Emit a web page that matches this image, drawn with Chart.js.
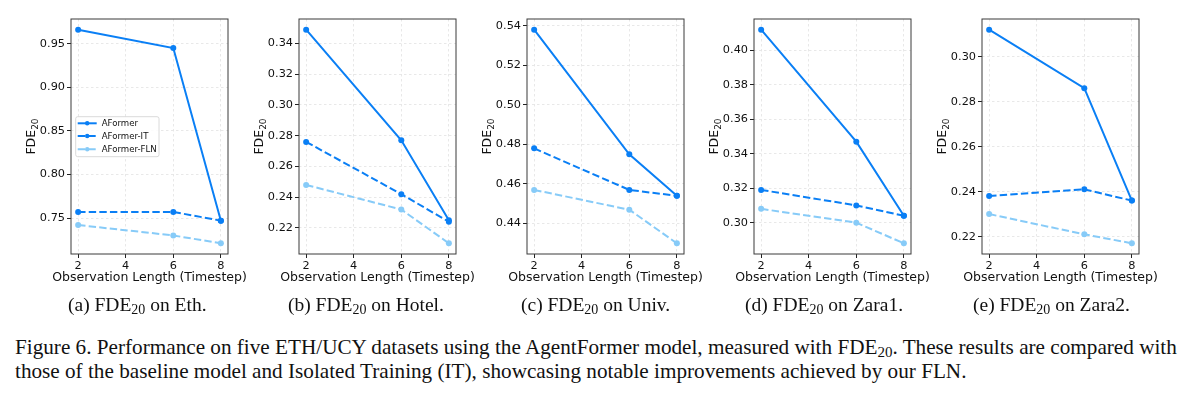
<!DOCTYPE html>
<html>
<head>
<meta charset="utf-8">
<script src="https://cdn.jsdelivr.net/npm/chart.js@4.4.1/dist/chart.umd.min.js"></script>
<style>
  html, body { margin: 0; padding: 0; background: #ffffff; }
  body { width: 1191px; height: 395px; position: relative; overflow: hidden; }
  canvas { position: absolute; top: 0; }
  .sub { position: absolute; font-family: "Liberation Serif", serif; font-size: 19.5px; line-height: 22px; color: #111; white-space: nowrap; }
  .sub sub { font-size: 14px; vertical-align: -3px; line-height: 0; }
  .cap { position: absolute; left: 15px; font-family: "Liberation Serif", serif; font-size: 21.2px; line-height: 22px; color: #111; white-space: nowrap; }
  .cap sub { font-size: 15px; vertical-align: -3px; line-height: 0; }
</style>
</head>
<body>
<script>
// ---------------- data ----------------
const steps = [2, 6, 8];
const seriesNames = ['AFormer', 'AFormer-IT', 'AFormer-FLN'];
const datasetNames = ['Eth', 'Hotel', 'Univ', 'Zara1', 'Zara2'];
const panelLetters = ['a', 'b', 'c', 'd', 'e'];

const ethAFormer = [0.966, 0.945, 0.747];
const ethIT      = [0.757, 0.757, 0.747];
const ethFLN     = [0.742, 0.730, 0.721];

const hotelAFormer = [0.349, 0.277, 0.225];
const hotelIT      = [0.276, 0.242, 0.224];
const hotelFLN     = [0.248, 0.232, 0.210];

const univAFormer = [0.538, 0.475, 0.454];
const univIT      = [0.478, 0.457, 0.454];
const univFLN     = [0.457, 0.447, 0.430];

const zara1AFormer = [0.412, 0.347, 0.304];
const zara1IT      = [0.319, 0.310, 0.304];
const zara1FLN     = [0.308, 0.300, 0.288];

const zara2AFormer = [0.312, 0.286, 0.236];
const zara2IT      = [0.238, 0.241, 0.236];
const zara2FLN     = [0.230, 0.221, 0.217];

const xTicks = [2, 4, 6, 8];
const yTickSteps = [0.05, 0.02, 0.02, 0.02, 0.02];
const xTitle = 'Observation Length (Timestep)';

const panelSeries = [
  [ethAFormer, ethIT, ethFLN],
  [hotelAFormer, hotelIT, hotelFLN],
  [univAFormer, univIT, univFLN],
  [zara1AFormer, zara1IT, zara1FLN],
  [zara2AFormer, zara2IT, zara2FLN]
];

// ---------------- styling ----------------
const colDark = '#0a7ff5';
const colLight = '#87cbf8';
const seriesStyle = [
  { color: colDark, dash: [] },
  { color: colDark, dash: [7.4, 3.2] },
  { color: colLight, dash: [7.4, 3.2] }
];
const plotLefts = [71, 298.7, 526.7, 754.3, 982.3];
const plotTop = 19, plotBottom = 254, plotWidth = 157;
const yAxisW = 70, canvasW = 256, canvasH = 296;

const frameAndLabels = {
  id: 'frameAndLabels',
  afterDraw(chart, args, opts) {
    const { ctx, chartArea: a } = chart;
    ctx.save();
    ctx.strokeStyle = '#3a3a3a';
    ctx.lineWidth = 1;
    ctx.strokeRect(a.left, a.top, a.right - a.left, a.bottom - a.top);
    // x title
    ctx.fillStyle = '#111';
    ctx.font = '12.5px "DejaVu Sans"';
    ctx.textAlign = 'center';
    ctx.textBaseline = 'middle';
    ctx.fillText(xTitle, (a.left + a.right) / 2, a.bottom + 23.5);
    // y title FDE_20
    ctx.translate(a.left - 39, (a.top + a.bottom) / 2);
    ctx.rotate(-Math.PI / 2);
    ctx.textBaseline = 'middle';
    ctx.font = '12.5px "DejaVu Sans"';
    const w1 = ctx.measureText('FDE').width;
    ctx.font = '9px "DejaVu Sans"';
    const w2 = ctx.measureText('20').width;
    const x0 = -(w1 + w2) / 2;
    ctx.font = '12.5px "DejaVu Sans"';
    ctx.textAlign = 'left';
    ctx.fillText('FDE', x0, 0);
    ctx.font = '9px "DejaVu Sans"';
    ctx.fillText('20', x0 + w1, 3.5);
    ctx.restore();

    if (opts.legend) {
      ctx.save();
      const bx = a.left + 4.7, by = a.top + 97.7, bw = 83.3, bh = 40;
      ctx.fillStyle = 'rgba(255,255,255,0.85)';
      ctx.strokeStyle = '#d0d0d0';
      ctx.lineWidth = 0.8;
      ctx.beginPath();
      if (ctx.roundRect) ctx.roundRect(bx, by, bw, bh, 2); else ctx.rect(bx, by, bw, bh);
      ctx.fill(); ctx.stroke();
      const rows = [by + 6.6, by + 19.3, by + 32.6];
      chart.data.datasets.forEach((ds, i) => {
        const y = rows[i];
        ctx.strokeStyle = ds.borderColor;
        ctx.lineWidth = 2;
        ctx.setLineDash(ds.borderDash || []);
        ctx.beginPath(); ctx.moveTo(bx + 2, y); ctx.lineTo(bx + 21, y); ctx.stroke();
        ctx.setLineDash([]);
        ctx.fillStyle = ds.borderColor;
        ctx.beginPath(); ctx.arc(bx + 11.5, y, 2.2, 0, Math.PI * 2); ctx.fill();
        ctx.fillStyle = '#111';
        ctx.font = '8.6px "DejaVu Sans"';
        ctx.textBaseline = 'middle';
        ctx.textAlign = 'left';
        ctx.fillText(ds.label, bx + 26, y + 0.5);
      });
      ctx.restore();
    }
  }
};

function makePanel(idx) {
  const series = panelSeries[idx];
  const all = series.flat();
  const dmin = Math.min(...all), dmax = Math.max(...all);
  const pad = (dmax - dmin) * 0.05;
  const ymin = dmin - pad, ymax = dmax + pad;
  const step = yTickSteps[idx];

  const cv = document.createElement('canvas');
  cv.width = canvasW; cv.height = canvasH;
  cv.style.width = canvasW + 'px'; cv.style.height = canvasH + 'px';
  cv.style.left = (plotLefts[idx] - yAxisW) + 'px';
  document.body.appendChild(cv);

  const datasets = series.map((vals, s) => ({
    label: seriesNames[s],
    data: steps.map((x, k) => ({ x: x, y: vals[k] })),
    borderColor: seriesStyle[s].color,
    backgroundColor: seriesStyle[s].color,
    pointBackgroundColor: seriesStyle[s].color,
    pointBorderColor: seriesStyle[s].color,
    borderDash: seriesStyle[s].dash,
    borderWidth: 2,
    pointRadius: 3,
    pointBorderWidth: 0,
    tension: 0,
    order: s
  }));

  new Chart(cv, {
    type: 'line',
    data: { datasets },
    options: {
      responsive: false,
      animation: false,
      devicePixelRatio: 1,
      layout: { padding: { top: plotTop, right: canvasW - yAxisW - plotWidth, left: 0, bottom: 0 } },
      plugins: {
        legend: { display: false },
        tooltip: { enabled: false },
        frameAndLabels: { legend: idx === 0 }
      },
      scales: {
        x: {
          type: 'linear',
          min: 1.7, max: 8.3,
          afterBuildTicks: (sc) => { sc.ticks = xTicks.map(v => ({ value: v })); },
          afterFit: (sc) => { sc.height = canvasH - plotBottom; },
          ticks: { color: '#111', font: { family: 'DejaVu Sans', size: 11.3 }, padding: 1.5, maxRotation: 0, callback: v => String(v) },
          grid: { color: '#e2e2e2', lineWidth: 0.8, tickLength: 4, tickColor: '#222', tickWidth: 1 },
          border: { display: false, dash: [2.5, 2.5] }
        },
        y: {
          type: 'linear',
          min: ymin, max: ymax,
          afterBuildTicks: (sc) => {
            const t = [];
            for (let v = Math.ceil(ymin / step - 1e-9) * step; v <= ymax + 1e-9; v += step) t.push({ value: Math.round(v * 1000) / 1000 });
            sc.ticks = t;
          },
          afterFit: (sc) => { sc.width = yAxisW; },
          ticks: { color: '#111', font: { family: 'DejaVu Sans', size: 11.3 }, padding: 2, callback: v => Number(v).toFixed(2) },
          grid: { color: '#e2e2e2', lineWidth: 0.8, tickLength: 4, tickColor: '#222', tickWidth: 1 },
          border: { display: false, dash: [2.5, 2.5] }
        }
      }
    },
    plugins: [frameAndLabels]
  });
}

for (let i = 0; i < 5; i++) makePanel(i);

// ---------------- captions ----------------
const subLefts = [68, 288, 521, 745, 973];
datasetNames.forEach((n, i) => {
  const d = document.createElement('div');
  d.className = 'sub';
  d.style.left = subLefts[i] + 'px';
  d.style.top = '294px';
  d.innerHTML = '(' + panelLetters[i] + ') FDE<sub>20</sub> on ' + n + '.';
  document.body.appendChild(d);
});
const cap1 = document.createElement('div');
cap1.className = 'cap';
cap1.style.top = '336px';
cap1.innerHTML = 'Figure 6. Performance on five ETH/UCY datasets using the AgentFormer model, measured with FDE<sub>20</sub>. These results are compared with';
document.body.appendChild(cap1);
const cap2 = document.createElement('div');
cap2.className = 'cap';
cap2.style.top = '360px';
cap2.innerHTML = 'those of the baseline model and Isolated Training (IT), showcasing notable improvements achieved by our FLN.';
document.body.appendChild(cap2);
</script>
</body>
</html>
